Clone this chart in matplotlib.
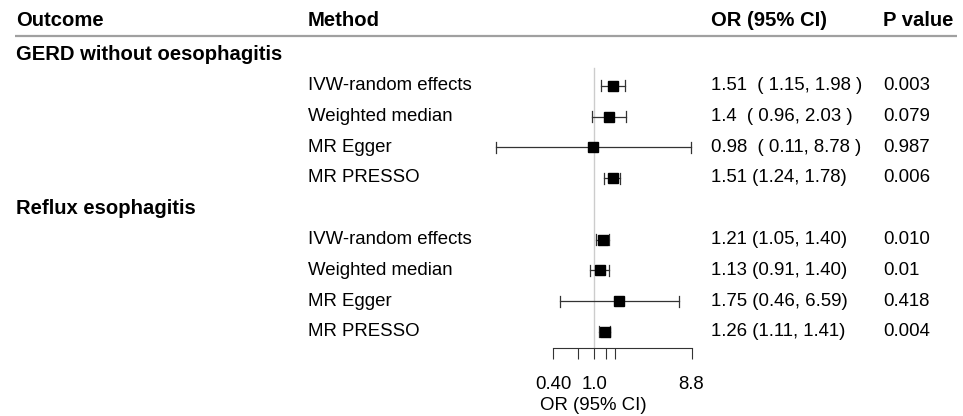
import numpy as np
import matplotlib
matplotlib.use("Agg")
import matplotlib.pyplot as plt

plt.rcParams['font.family'] = ['Liberation Sans', 'DejaVu Sans']

# ---- data ----
outcomes = ["GERD without oesophagitis", "Reflux esophagitis"]
methods = ["IVW-random effects", "Weighted median", "MR Egger", "MR PRESSO"]
or_est = [[1.51, 1.40, 0.98, 1.51], [1.21, 1.13, 1.75, 1.26]]
ci_low = [[1.15, 0.96, 0.11, 1.24], [1.05, 0.91, 0.46, 1.11]]
ci_high = [[1.98, 2.03, 8.78, 1.78], [1.40, 1.40, 6.59, 1.41]]
or_text = [["1.51  ( 1.15, 1.98 )", "1.4  ( 0.96, 2.03 )", "0.98  ( 0.11, 8.78 )", "1.51 (1.24, 1.78)"],
           ["1.21 (1.05, 1.40)", "1.13 (0.91, 1.40)", "1.75 (0.46, 6.59)", "1.26 (1.11, 1.41)"]]
p_text = [["0.003", "0.079", "0.987", "0.006"], ["0.010", "0.01", "0.418", "0.004"]]
headers = ["Outcome", "Method", "OR (95% CI)", "P value"]
tick_vals = [0.4, 0.7, 1.0, 1.3, 1.6, 8.8]
tick_labels = ["0.40", "", "1.0", "", "", "8.8"]
xlab = "OR (95% CI)"

# ---- layout (pixels) ----
W, H = 963, 416
fig = plt.figure(figsize=(W / 100, H / 100), dpi=100)
fs = 13.4
fsb = 14.6
col_x = [16, 308, 711, 883]
header_y = 20
row0 = 55
dy = 30.75
x_one = 594.3      # pixel of OR = 1
px_per_ln = 44.7
axis_y = 348
top_y = 60

# text overlay axes in pixel coords
tax = fig.add_axes([0, 0, 1, 1])
tax.set_xlim(0, W)
tax.set_ylim(H, 0)
tax.axis("off")

for x, h in zip(col_x, headers):
    tax.text(x, header_y, h, fontsize=fsb, fontweight="bold", va="center", ha="left")
tax.plot([15, 957], [36, 36], color="#a0a0a0", lw=1.6, solid_capstyle="butt")

# forest axes
fax = fig.add_axes([0, (H - axis_y) / H, 1, (axis_y - top_y) / H])
fax.patch.set_alpha(0)
fax.set_xscale("log")
fax.set_xlim(np.exp(-x_one / px_per_ln), np.exp((W - x_one) / px_per_ln))
fax.set_ylim(axis_y, top_y)
for s in ["top", "left", "right"]:
    fax.spines[s].set_visible(False)
fax.spines["bottom"].set_bounds(tick_vals[0], tick_vals[-1])
fax.spines["bottom"].set_color("#333333")
fax.spines["bottom"].set_linewidth(0.8)
fax.set_yticks([])
fax.xaxis.set_minor_locator(matplotlib.ticker.NullLocator())
fax.set_xticks(tick_vals)
fax.set_xticklabels(tick_labels)
fax.tick_params(axis="x", direction="out", length=8, width=0.8, color="#333333",
                labelsize=fs, pad=12)
fax.set_xlabel(xlab, fontsize=fs)
fax.xaxis.set_label_coords(593 / W, -(405 - axis_y) / (axis_y - top_y))
fax.xaxis.label.set_va("center")

fax.axvline(1.0, ymin=0, ymax=(axis_y - 68) / (axis_y - top_y), color="#cccccc", lw=1, zorder=0)

cap = 5.5
for g, outc in enumerate(outcomes):
    gy = row0 + dy * g * (len(methods) + 1)
    tax.text(col_x[0], gy, outc, fontsize=fsb, fontweight="bold", va="center", ha="left")
    for i, m in enumerate(methods):
        y = gy + dy * (i + 1)
        tax.text(col_x[1], y, m, fontsize=fs, va="center", ha="left")
        tax.text(col_x[2], y, or_text[g][i], fontsize=fs, va="center", ha="left")
        tax.text(col_x[3], y, p_text[g][i], fontsize=fs, va="center", ha="left")
        lo, hi, est = ci_low[g][i], ci_high[g][i], or_est[g][i]
        fax.plot([lo, hi], [y, y], color="#333333", lw=0.9)
        fax.plot([lo, lo], [y - cap, y + cap], color="#333333", lw=0.9)
        fax.plot([hi, hi], [y - cap, y + cap], color="#333333", lw=0.9)
        fax.plot([est], [y], marker="s", color="black", markersize=7, linestyle="none")

fig.savefig("out.png", dpi=100)
